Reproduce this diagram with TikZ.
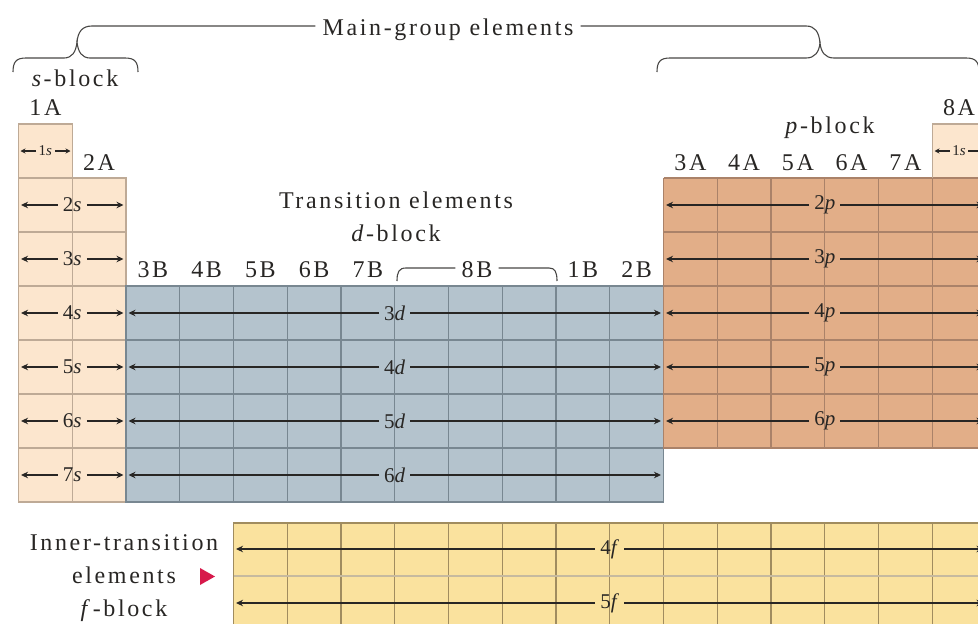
\documentclass[tikz,border=0pt]{standalone}
\usepackage{fontspec}
\setmainfont{Liberation Serif}
\newfontfamily\labfont[LetterSpace=11]{Liberation Serif}
\usetikzlibrary{arrows.meta}
\definecolor{sfill}{RGB}{252,230,206}
\definecolor{dfill}{RGB}{180,195,205}
\definecolor{pfill}{RGB}{226,174,136}
\definecolor{ffill}{RGB}{250,226,158}
\definecolor{sgrid}{RGB}{190,170,150}
\definecolor{dgrid}{RGB}{120,135,145}
\definecolor{pgrid}{RGB}{170,130,105}
\definecolor{fgrid}{RGB}{160,140,95}
\definecolor{ink}{RGB}{40,38,36}
\definecolor{tri}{RGB}{215,25,75}
\begin{document}
\begin{tikzpicture}[x=1pt,y=-1pt,
  txt/.style={font=\labfont\fontsize{24}{26}\selectfont, text=ink, inner sep=0pt},
  orb/.style={font=\fontsize{21}{22}\selectfont, text=ink, inner xsep=5pt, inner ysep=2pt},
  orbsmall/.style={font=\fontsize{15}{16}\selectfont, text=ink, inner xsep=2.5pt, inner ysep=1pt},
  orbarrow/.style={draw=ink, line width=2.2pt, -{Stealth[length=7pt,width=6.5pt]}},
  orbarrowsmall/.style={draw=ink, line width=1.8pt, -{Stealth[length=5pt,width=5pt]}},
  brace/.style={draw=ink!85, line width=1.1pt},
  gridline/.style={line width=1.1pt}
]
\clip (0,0) rectangle (978,624);
% ---------------- cell fills ----------------
\fill[sfill] (18.5,124) -- (72.25,124) -- (72.25,178) -- (126,178) -- (126,502) -- (18.5,502) -- cycle;
\fill[dfill] (126,286) rectangle (663.5,502);
\fill[pfill] (663.5,178) -- (932.25,178) -- (932.25,124) -- (986,124) -- (986,448) -- (663.5,448) -- cycle;
\fill[sfill] (932.25,124) rectangle (986,178);
\fill[ffill] (233.5,523) rectangle (986,629);
% ---------------- grids ----------------
% s-block
\foreach \y in {178,232,286,340,394,448} \draw[gridline,sgrid] (18.5,\y) -- (126,\y);
\draw[gridline,sgrid] (72.25,124) -- (72.25,502);
\draw[gridline,sgrid] (18.5,124) -- (72.25,124) -- (72.25,178) -- (126,178) -- (126,502) -- (18.5,502) -- cycle;
% d-block
\foreach \x in {179.75,233.5,287.25,341,394.75,448.5,502.25,556,609.75} \draw[gridline,dgrid] (\x,286) -- (\x,502);
\foreach \y in {340,394,448} \draw[gridline,dgrid] (126,\y) -- (663.5,\y);
\draw[gridline,dgrid] (126,286) rectangle (663.5,502);
% p-block
\foreach \x in {717.25,771,824.75,878.5} \draw[gridline,pgrid] (\x,178) -- (\x,448);
\foreach \y in {232,286,340,394} \draw[gridline,pgrid] (663.5,\y) -- (986,\y);
\draw[gridline,pgrid] (932.25,178) -- (932.25,448);
\draw[gridline,pgrid] (663.5,178) -- (986,178);
\draw[gridline,pgrid] (663.5,178) -- (663.5,448) -- (986,448);
\draw[gridline,sgrid] (932.25,178) -- (932.25,124) -- (986,124);
% f-block
\foreach \x in {287.25,341,394.75,448.5,502.25,556,609.75,663.5,717.25,771,824.75,878.5,932.25} \draw[gridline,fgrid] (\x,523) -- (\x,629);
\draw[gridline,fgrid!60] (233.5,576) -- (986,576);
\draw[gridline,fgrid] (986,523) -- (233.5,523) -- (233.5,629);
% ---------------- orbital arrows ----------------
\node[orbsmall] (s1) at (45.4,151) {1\textit{s}};
\coordinate (s1L) at (20.5,151); \coordinate (s1R) at (70.5,151);
\draw[orbarrowsmall] (s1) -- (s1L); \draw[orbarrowsmall] (s1) -- (s1R);
\node[orbsmall] (he) at (959,151) {1\textit{s}};
\coordinate (heL) at (934.5,151); \coordinate (heR) at (984,151);
\draw[orbarrowsmall] (he) -- (heL); \draw[orbarrowsmall] (he) -- (heR);
\foreach \n/\y in {2/205,3/259,4/313,5/367,6/421,7/475}{
  \node[orb] (s\n) at (72.25,\y) {\n\textit{s}};
  \coordinate (s\n L) at (21,\y); \coordinate (s\n R) at (123.5,\y);
  \draw[orbarrow] (s\n) -- (s\n L); \draw[orbarrow] (s\n) -- (s\n R);
}
\foreach \n/\y in {3/313,4/367,5/421,6/475}{
  \node[orb] (d\n) at (394.75,\y) {\n\textit{d}};
  \coordinate (d\n L) at (128.5,\y); \coordinate (d\n R) at (661,\y);
  \draw[orbarrow] (d\n) -- (d\n L); \draw[orbarrow] (d\n) -- (d\n R);
}
\foreach \n/\y in {2/205,3/259,4/313,5/367,6/421}{
  \node[orb] (p\n) at (824.75,\y) {\n\textit{p}};
  \coordinate (p\n L) at (666,\y); \coordinate (p\n R) at (983.5,\y);
  \draw[orbarrow] (p\n) -- (p\n L); \draw[orbarrow] (p\n) -- (p\n R);
}
\foreach \n/\y in {4/549,5/603}{
  \node[orb] (f\n) at (609.75,\y) {\n\textit{f}};
  \coordinate (f\n L) at (236,\y); \coordinate (f\n R) at (983.5,\y);
  \draw[orbarrow] (f\n) -- (f\n L); \draw[orbarrow] (f\n) -- (f\n R);
}
% ---------------- group labels ----------------
\node[txt] (g1A) at (45.4,108) {1A};
\node[txt] (g2A) at (99.1,163) {2A};
\foreach \g/\x in {3B/152.9,4B/206.6,5B/260.4,6B/314.1,7B/367.9,1B/582.9,2B/636.6}
  \node[txt] (g\g) at (\x,270) {\g};
\coordinate (bry) at (0,268);
\node[txt, inner xsep=6pt] (g8B) at (477,270) {8B};
\draw[brace] (397,281) .. controls (397,272) and (399,268) .. (406,268) -- (g8B.west |- bry);
\draw[brace] (g8B.east |- bry) -- (549,268) .. controls (555,268) and (557,272) .. (557,281);
\foreach \g/\x in {3A/690.4,4A/744.1,5A/797.9,6A/851.6,7A/905.4}
  \node[txt] (g\g) at (\x,163) {\g};
\node[txt] (g8A) at (959,108) {8A};
% ---------------- block titles ----------------
\node[txt] (sblk) at (75,78) {\textit{s}-block};
\node[txt] (pblk) at (830,128) {\textit{p}-block};
\node[txt] (trans) at (396,200) {Transition elements};
\node[txt] (dblk) at (396,233) {\textit{d}-block};
\node[txt, align=center, font=\labfont\fontsize{24}{33}\selectfont] (fblk) at (124,578) {Inner-transition\\elements\\\textit{f}-block};
\fill[tri] (200,568) -- (215,576.5) -- (200,585) -- cycle;
% ---------------- braces ----------------
\draw[brace] (13,72) .. controls (13,62) and (16,58) .. (26,58) -- (64,58)
  .. controls (72,58) and (76,52) .. (77,42) .. controls (78,52) and (82,58) .. (90,58)
  -- (125,58) .. controls (135,58) and (138,62) .. (138,72);
\draw[brace] (657,72) .. controls (657,62) and (660,58) .. (670,58) -- (806,58)
  .. controls (815,58) and (819,52) .. (820,43) .. controls (821,52) and (825,58) .. (834,58)
  -- (966,58) .. controls (976,58) and (979,62) .. (979,72);
\coordinate (mgy) at (0,26);
\node[txt, inner xsep=7pt] (mg) at (448,30) {Main-group elements};
\draw[brace] (77,42) .. controls (78,32) and (82,26) .. (92,26) -- (mg.west |- mgy);
\draw[brace] (mg.east |- mgy) -- (806,26) .. controls (815,26) and (819,32) .. (820,43);
\end{tikzpicture}
\end{document}
